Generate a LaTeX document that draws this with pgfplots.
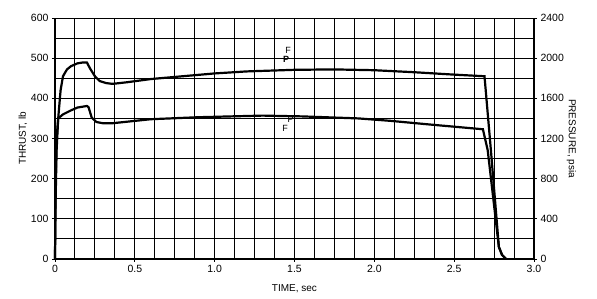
\documentclass[border=0pt]{standalone}
\usepackage{fontspec}
\setmainfont{Liberation Sans}
\usepackage{pgfplots}
\pgfplotsset{compat=1.18}
\begin{document}
\begin{tikzpicture}
\pgfplotsset{every axis/.style={
  scale only axis, width=479pt, height=241pt,
  xmin=0, xmax=3, ymin=0,
  tick align=outside, major tick length=3pt,
  tick style={black, line width=0.9pt},
  ticklabel style={font=\fontsize{10.5}{12}\selectfont},
  /pgf/number format/assume math mode=true,
  /pgf/number format/1000 sep={},
  label style={font=\fontsize{10}{12}\selectfont},
  axis line style={line width=1.4pt},
}}
\begin{axis}[
  ymax=600,
  xtick={0,0.5,1,1.5,2,2.5,3},
  xticklabels={0,0.5,1.0,1.5,2.0,2.5,3.0},
  ytick={0,100,...,600},
  extra x ticks={0.125,0.25,0.375,0.625,0.75,0.875,1.125,1.25,1.375,1.625,1.75,1.875,2.125,2.25,2.375,2.625,2.75,2.875},
  extra x tick labels={},
  extra y ticks={50,150,250,350,450,550},
  extra y tick labels={},
  extra tick style={major tick length=0pt, grid=major},
  grid=major,
  major grid style={black, line width=1pt},
  axis y line*=left,
  axis x line*=bottom,
  xlabel={TIME, sec},
  ylabel={THRUST, lb},
  xlabel style={yshift=-2pt},
  ylabel style={yshift=-6pt},
  clip=false,
]
\addplot[black, line width=2.2pt] coordinates {
(0,0) (0.004,150) (0.01,270) (0.02,350) (0.035,420) (0.05,455) (0.075,472) (0.1,480) (0.14,487) (0.17,489) (0.2,489) (0.22,474) (0.25,455) (0.28,443) (0.32,438) (0.36,436) (0.45,440) (0.6,448) (0.8,455) (1.0,462) (1.2,467) (1.5,471) (1.75,472) (2.0,470) (2.25,465) (2.5,459) (2.69,455) (2.73,271) (2.78,30) (2.80,10) (2.825,0)
};
\addplot[black, line width=2.2pt] coordinates {
(0,0) (0.004,200) (0.01,300) (0.02,350) (0.05,360) (0.1,370) (0.14,377) (0.2,381) (0.21,378) (0.23,352) (0.26,341) (0.3,338) (0.36,338) (0.6,348) (0.9,353) (1.3,357) (1.55,355) (1.9,350) (2.1,344) (2.37,334) (2.68,323) (2.71,271) (2.78,30) (2.80,10) (2.825,0)
};
\node[font=\fontsize{9}{10}\selectfont\bfseries, inner sep=0pt] at (axis cs:1.447,496) {P};
\node[font=\fontsize{9}{10}\selectfont, inner sep=0pt] at (axis cs:1.46,520) {F};
\node[font=\fontsize{9}{10}\selectfont, inner sep=0pt] at (axis cs:1.442,324) {F};
\node[font=\fontsize{9}{10}\selectfont, inner sep=0pt] at (axis cs:1.475,347) {P};
\end{axis}
\begin{axis}[
  ymax=2400,
  ytick={0,400,...,2400},
  axis y line*=right,
  axis x line=none,
  ylabel={PRESSURE, psia},
  ylabel style={rotate=180, yshift=-4pt},
]
\addplot[draw=none] coordinates {(0,0)};
\end{axis}
\path[use as bounding box] (-55pt,-40pt) rectangle (542pt,259pt);
\end{tikzpicture}
\end{document}
